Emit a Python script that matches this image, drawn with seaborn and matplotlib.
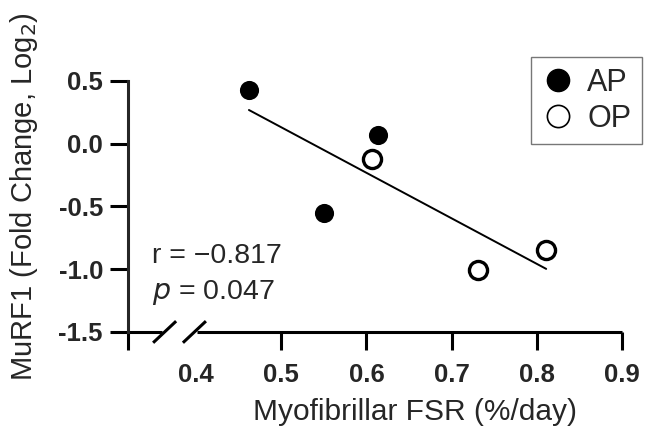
import matplotlib
matplotlib.use("Agg")
import matplotlib.pyplot as plt
import matplotlib.transforms as mtransforms
from matplotlib.lines import Line2D
import pandas as pd
import seaborn as sns

# Data
ap_fsr = [0.462, 0.614, 0.550]
ap_murf1 = [0.43, 0.07, -0.55]
op_fsr = [0.607, 0.731, 0.811]
op_murf1 = [-0.12, -1.01, -0.85]

x_ticks = [0.32, 0.4, 0.5, 0.6, 0.7, 0.8, 0.9]
x_ticklabels = ["", "0.4", "0.5", "0.6", "0.7", "0.8", "0.9"]
y_ticks = [-1.5, -1.0, -0.5, 0.0, 0.5]
y_ticklabels = ["-1.5", "-1.0", "-0.5", "0.0", "0.5"]

df = pd.DataFrame({
    "fsr": ap_fsr + op_fsr,
    "murf1": ap_murf1 + op_murf1,
    "group": ["AP"] * len(ap_fsr) + ["OP"] * len(op_fsr),
})

sns.set_style("ticks")
plt.rcParams["font.family"] = ["Liberation Sans", "DejaVu Sans"]

fig = plt.figure(figsize=(6.53, 4.30), dpi=100)
ax = fig.add_axes([0.196, 0.228, 0.7565, 0.584])

# regression line over all points
sns.regplot(data=df, x="fsr", y="murf1", scatter=False, ci=None, truncate=True,
            color="black", line_kws={"linewidth": 1.4}, ax=ax)

ap = df[df.group == "AP"]
op = df[df.group == "OP"]
sns.scatterplot(data=ap, x="fsr", y="murf1", color="black", s=190,
                edgecolor="black", linewidth=0, ax=ax, zorder=3, clip_on=False)
sns.scatterplot(data=op, x="fsr", y="murf1", color="white", s=170,
                edgecolor="black", linewidth=2.4, ax=ax, zorder=3, clip_on=False)

ax.set_xlim(0.32, 0.9)
ax.set_ylim(-1.5, 0.5)
ax.set_xticks(x_ticks)
ax.set_xticklabels(x_ticklabels)
ax.set_yticks(y_ticks)
ax.set_yticklabels(y_ticklabels)
for lab in ax.get_xticklabels() + ax.get_yticklabels():
    lab.set_fontweight("bold")
    lab.set_fontsize(18.5)
ax.tick_params(axis="both", length=13, width=2.2, color="black")
ax.tick_params(axis="x", pad=9)
ax.tick_params(axis="y", pad=5)
ax.xaxis.get_major_ticks()[1].tick1line.set_visible(False)

sns.despine(ax=ax)
ax.spines["left"].set_linewidth(2.2)
ax.spines["bottom"].set_visible(False)

# broken x axis
trans = mtransforms.blended_transform_factory(ax.transData, ax.transAxes)
ax.plot([0.32, 0.360], [0, 0], color="black", lw=2.2, transform=trans,
        clip_on=False, solid_capstyle="butt")
ax.plot([0.401, 0.9], [0, 0], color="black", lw=2.2, transform=trans,
        clip_on=False, solid_capstyle="butt")
for xc in [0.363, 0.398]:
    ax.plot([xc - 0.0135, xc + 0.0135], [-0.043, 0.043], color="black", lw=2.2,
            transform=trans, clip_on=False, solid_capstyle="butt")

ax.set_xlabel("")
ax.set_ylabel("")
fig.text(24 / 653, 1 - 197 / 430, "MuRF1 (Fold Change, Log$_2$)", fontsize=21,
         rotation=90, ha="center", va="center")
fig.text(415 / 653, 1 - 412 / 430, "Myofibrillar FSR (%/day)", fontsize=21.5,
         ha="center", va="center")

ax.text(0.348, -0.95, "r = \u22120.817", fontsize=20.5, ha="left", va="baseline")
ax.text(0.348, -1.235, "$\\it{p}$ = 0.047", fontsize=20.5, ha="left", va="baseline")

handles = [
    Line2D([], [], marker="o", linestyle="none", markersize=16,
           markerfacecolor="black", markeredgecolor="black", label="AP"),
    Line2D([], [], marker="o", linestyle="none", markersize=16,
           markerfacecolor="white", markeredgecolor="black", markeredgewidth=1.2,
           label="OP"),
]
leg = ax.legend(handles=handles, loc="upper right", bbox_to_anchor=(1.04, 1.095),
                fontsize=22, frameon=True, fancybox=False, handletextpad=0.4,
                borderpad=0.35, labelspacing=0.2, handlelength=1.1,
                borderaxespad=0)
leg.get_frame().set_edgecolor("#555555")
leg.get_frame().set_linewidth(1.0)

fig.savefig("out.png", dpi=100)
